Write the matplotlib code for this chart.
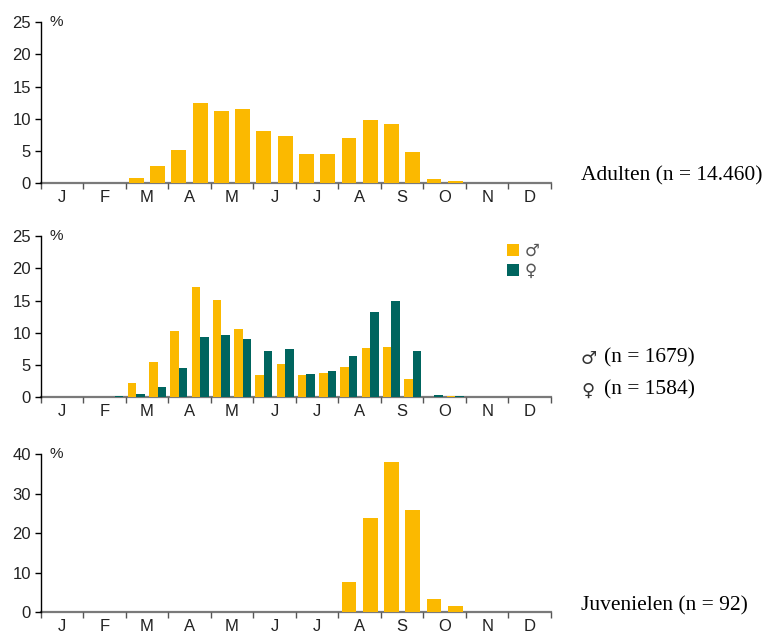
import matplotlib

matplotlib.use("Agg")

import matplotlib.pyplot as plt
import numpy as np
from matplotlib.patches import Patch

MONTHS = ["J", "F", "M", "A", "M", "J", "J", "A", "S", "O", "N", "D"]

# percentages per half-month period (24 periods)
adults = [0, 0, 0.05, 0.1, 0.9, 2.7, 5.1, 12.4, 11.2, 11.5, 8.2, 7.4,
          4.5, 4.6, 7.1, 9.9, 9.2, 4.8, 0.6, 0.3, 0.1, 0.05, 0.05, 0.05]
males = [0, 0, 0, 0, 2.2, 5.4, 10.3, 17.1, 15.1, 10.6, 3.4, 5.1,
         3.4, 3.7, 4.7, 7.6, 7.8, 2.8, 0, 0.2, 0, 0, 0, 0]
females = [0, 0, 0, 0.2, 0.5, 1.6, 4.5, 9.3, 9.6, 9.0, 7.2, 7.5,
           3.6, 4.1, 6.4, 13.2, 14.9, 7.2, 0.3, 0.15, 0.05, 0.05, 0, 0]
juveniles = [0, 0, 0, 0, 0, 0, 0, 0, 0, 0, 0, 0,
             0, 0, 7.7, 23.8, 38.0, 25.8, 3.4, 1.6, 0.1, 0, 0, 0]

label_adults = "Adulten (n = 14.460)"
label_males = "(n = 1679)"
label_females = "(n = 1584)"
label_juveniles = "Juvenielen (n = 92)"

YELLOW = "#FBB900"
TEAL = "#00655F"
TICK_FONT = ["Liberation Sans", "DejaVu Sans"]
SERIF = ["Liberation Serif", "DejaVu Serif"]


def style_axis(ax, ymax, ystep):
    ax.set_xlim(0, 24)
    ax.set_ylim(0, ymax)
    ax.spines["top"].set_visible(False)
    ax.spines["right"].set_visible(False)
    ax.spines["left"].set_color("black")
    ax.spines["left"].set_linewidth(1.0)
    ax.spines["bottom"].set_color("#7a7a7a")
    ax.spines["bottom"].set_linewidth(1.6)
    ax.spines["bottom"].set_zorder(0)
    ax.set_yticks(np.arange(0, ymax + 0.1, ystep))
    ax.set_xticks(np.arange(0, 25, 2))
    ax.set_xticklabels([])
    ax.set_xticks(np.arange(1, 24, 2), minor=True)
    ax.set_xticklabels(MONTHS, minor=True)
    ax.tick_params(axis="x", which="major", length=4, width=1, color="#555555", direction="out")
    ax.tick_params(axis="x", which="minor", length=0, pad=5)
    ax.tick_params(axis="y", length=4, width=1, color="black", pad=3)
    for lab in ax.get_xticklabels(minor=True) + ax.get_yticklabels():
        lab.set_family(TICK_FONT)
        lab.set_fontsize(12)
        lab.set_color("#222222")
    ax.text(0.018, 1.0, "%", transform=ax.transAxes, ha="left", va="center",
            fontsize=11, family=TICK_FONT, color="#222222")


fig = plt.figure(figsize=(7.75, 6.35), dpi=100)
left, width = 0.0523, 0.6587
ax1 = fig.add_axes([left, 0.7113, width, 0.2536])
ax2 = fig.add_axes([left, 0.3748, width, 0.2531])
ax3 = fig.add_axes([left, 0.0357, width, 0.2493])

x = np.arange(24) + 0.5

ax1.bar(x, adults, width=0.7, color=YELLOW, linewidth=0, zorder=2)
style_axis(ax1, 25, 5)

ax2.bar(x - 0.2, males, width=0.4, color=YELLOW, linewidth=0, zorder=2)
ax2.bar(x + 0.2, females, width=0.4, color=TEAL, linewidth=0, zorder=2)
style_axis(ax2, 25, 5)
handles = [Patch(facecolor=YELLOW, label="\u2642"), Patch(facecolor=TEAL, label="\u2640")]
leg = ax2.legend(handles=handles, loc="upper right", bbox_to_anchor=(1.0, 1.04), frameon=False,
                 handlelength=0.7, handleheight=0.7, handletextpad=0.35, labelspacing=0.15,
                 borderpad=0.2, prop={"family": "DejaVu Sans", "size": 12})
for t in leg.get_texts():
    t.set_color("#555555")

ax3.bar(x, juveniles, width=0.7, color=YELLOW, linewidth=0, zorder=2)
style_axis(ax3, 40, 10)

tx = 581 / 775
fig.text(tx, 1 - 176 / 635, label_adults, ha="left", va="center", fontsize=15.5, family=SERIF)
fig.text(tx, 1 - 359 / 635, "\u2642", ha="left", va="center", fontsize=13, family="DejaVu Sans",
         color="#333333")
fig.text(604 / 775, 1 - 358 / 635, label_males, ha="left", va="center", fontsize=15.5, family=SERIF)
fig.text(tx, 1 - 391 / 635, "\u2640", ha="left", va="center", fontsize=13, family="DejaVu Sans",
         color="#333333")
fig.text(604 / 775, 1 - 390 / 635, label_females, ha="left", va="center", fontsize=15.5, family=SERIF)
fig.text(tx, 1 - 606 / 635, label_juveniles, ha="left", va="center", fontsize=15.5, family=SERIF)

fig.savefig("out.png", dpi=100)
plt.close(fig)
